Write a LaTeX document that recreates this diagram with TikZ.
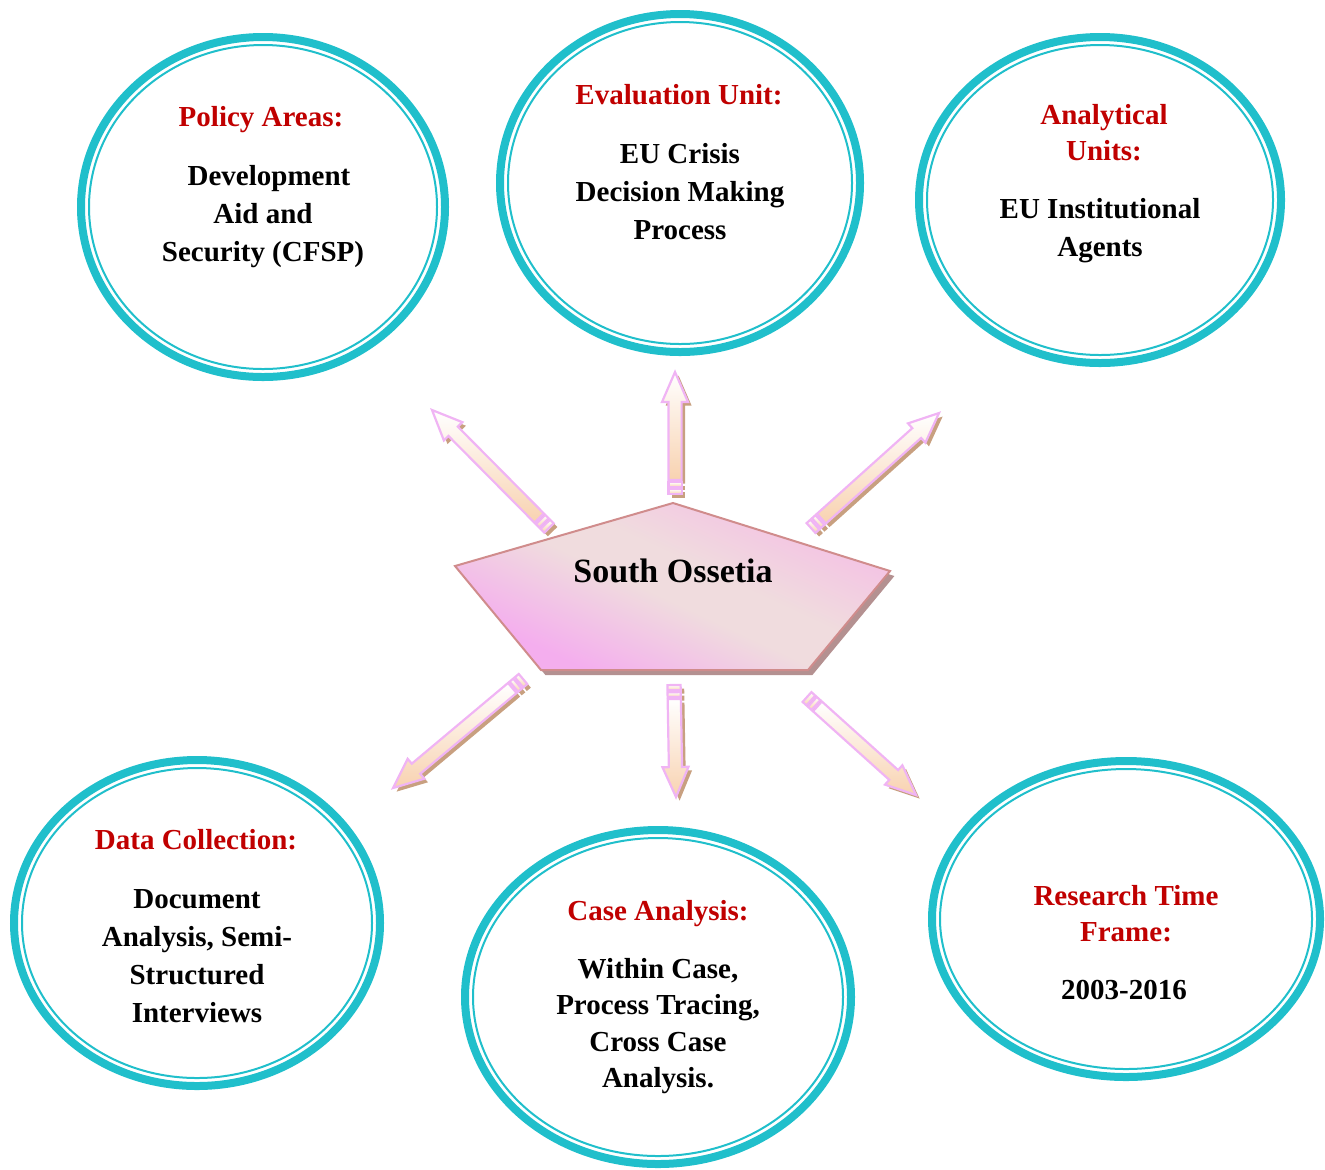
\documentclass[tikz,border=0pt]{standalone}
\usepackage{fontspec}
\setmainfont{Liberation Serif}
\usetikzlibrary{shapes.geometric,calc}

\definecolor{ringcyan}{RGB}{32,191,203}
\definecolor{titlered}{RGB}{192,0,0}
\definecolor{pentedge}{RGB}{208,140,140}
\definecolor{pentshadow}{RGB}{180,145,145}
\definecolor{pentlight}{RGB}{240,220,222}
\definecolor{pentpink}{RGB}{244,174,238}
\definecolor{pentrose}{RGB}{244,194,228}
\definecolor{arrowedge}{RGB}{240,180,244}
\definecolor{arrowpeach}{RGB}{248,210,176}
\definecolor{arrowshadow}{RGB}{200,160,128}

% pink-light-rose band fill for the central pentagon (middle 50bp spans the box)
\pgfdeclareverticalshading{pentshade}{100bp}{%
  color(0bp)=(pentpink); color(34bp)=(pentpink); color(48bp)=(pentlight);
  color(54bp)=(pentlight); color(66bp)=(pentrose); color(100bp)=(pentrose)}

% block arrow outline from tail #1 to tip #2
\newcommand\blockarrowpath[2]{%
  ($(#1)!7pt!(#2)!3.3pt!90:(#2)$) -- ($(#2)!15pt!(#1)!3.3pt!-90:(#1)$) --
  ($(#2)!15pt!(#1)!6.5pt!-90:(#1)$) -- (#2) --
  ($(#2)!15pt!(#1)!6.5pt!90:(#1)$) -- ($(#2)!15pt!(#1)!3.3pt!90:(#1)$) --
  ($(#1)!7pt!(#2)!3.3pt!-90:(#2)$) -- cycle}
% small tail segment of a block arrow, between distances #3 and #4
\newcommand\tailpiecepath[4]{%
  ($(#1)!#3!(#2)!3.3pt!90:(#2)$) -- ($(#1)!#4!(#2)!3.3pt!90:(#2)$) --
  ($(#1)!#4!(#2)!3.3pt!-90:(#2)$) -- ($(#1)!#3!(#2)!3.3pt!-90:(#2)$) -- cycle}
\newcommand\blockarrow[2]{%
  \begin{scope}[transform canvas={xshift=1.8pt,yshift=-1.8pt}]
    \fill[arrowshadow] \blockarrowpath{#1}{#2};
    \fill[arrowshadow] \tailpiecepath{#1}{#2}{0pt}{2.6pt};
    \fill[arrowshadow] \tailpiecepath{#1}{#2}{3.6pt}{6pt};
  \end{scope}
  \shade[arrowfill] \blockarrowpath{#1}{#2};
  \draw[arrowline] \blockarrowpath{#1}{#2};
  \shade[arrowfill,arrowline] \tailpiecepath{#1}{#2}{0pt}{2.6pt};
  \shade[arrowfill,arrowline] \tailpiecepath{#1}{#2}{3.6pt}{6pt};
}
% double cyan ring: name, centre, outer radii in px
\newcommand\ring[4]{%
  \node[outerring,minimum width={(#3-4)*1pt},minimum height={(#4-4)*1pt}] (#1) at #2 {};
  \node[innerring,minimum width={(#3-12)*1pt},minimum height={(#4-12)*1pt}] (#1-in) at #2 {};
}

\tikzset{
  outerring/.style={ellipse,draw=ringcyan,line width=4pt,inner sep=0pt},
  innerring/.style={ellipse,draw=ringcyan,line width=1pt,inner sep=0pt},
  title/.style={text=titlered,font=\fontsize{14.5}{18}\selectfont\bfseries,align=center,inner sep=0pt},
  body/.style={text=black,font=\fontsize{14.5}{19}\selectfont\bfseries,align=center,inner sep=0pt},
  arrowfill/.style={top color=white,bottom color=arrowpeach},
  arrowline/.style={draw=arrowedge,line width=1.1pt,line join=miter},
}

\begin{document}
\begin{tikzpicture}[x=0.5pt,y=-0.5pt]
\useasboundingbox (0,0) rectangle (1325,1169);

% rings
\ring{policy}{(263,207)}{186}{174}
\ring{evaluation}{(680,183)}{184}{173}
\ring{analytical}{(1100,200)}{185}{167}
\ring{data}{(197,923)}{187}{167}
\ring{case}{(658,997)}{197}{171}
\ring{research}{(1126,919)}{198}{162}

% ring texts
\node[title] (policy-t) at (261,120) {Policy Areas:};
\node[body] (policy-b) at (263,217) {\hspace*{6pt}Development\\Aid and\\Security (CFSP)};

\node[title] (evaluation-t) at (679,95) {Evaluation Unit:};
\node[body] (evaluation-b) at (680,192) {EU Crisis\\Decision Making\\Process};

\node[title] (analytical-t) at (1104,133) {Analytical\\Units:};
\node[body] (analytical-b) at (1100,231) {EU Institutional\\Agents};

\node[title] (data-t) at (196,840) {Data Collection:};
\node[body] (data-b) at (197,956) {Document\\Analysis, Semi-\\Structured\\Interviews};

\node[title] (case-t) at (658,914) {Case Analysis:};
\node[body,font=\fontsize{14.5}{18.2}\selectfont\bfseries] (case-b) at (658,1026) {Within Case,\\Process Tracing,\\Cross Case\\Analysis.};

\node[title] (research-t) at (1126,914) {Research Time\\Frame:};
\node[body] (research-b) at (1124,990) {2003-2016};

% central pentagon
\coordinate (p1) at (673,503);
\coordinate (p2) at (890,571);
\coordinate (p3) at (808,670);
\coordinate (p4) at (541,670);
\coordinate (p5) at (455,566);
\coordinate (pc) at (673,586);
\begin{scope}[transform canvas={xshift=2.2pt,yshift=-2.5pt}]
  \fill[pentshadow] (p1) -- (p2) -- (p3) -- (p4) -- (p5) -- cycle;
\end{scope}
\begin{scope}
  \clip (p1) -- (p2) -- (p3) -- (p4) -- (p5) -- cycle;
  \begin{scope}[transform canvas={rotate around={-25:(pc)}}]
    \shade[shading=pentshade] ($(pc)+(-320,-175)$) rectangle ($(pc)+(320,175)$);
  \end{scope}
\end{scope}
\draw[pentedge,line width=1pt,line join=miter] (p1) -- (p2) -- (p3) -- (p4) -- (p5) -- cycle;
\node[font=\fontsize{17}{20}\selectfont\bfseries,inner sep=0pt] (centre) at (673,571) {South Ossetia};

% radiating arrows
\coordinate (a1t) at (549,528); \coordinate (a1h) at (432,410);
\coordinate (a2t) at (675,494); \coordinate (a2h) at (675,372);
\coordinate (a3t) at (811,528); \coordinate (a3h) at (939,413);
\coordinate (a4t) at (523,679); \coordinate (a4h) at (393,788);
\coordinate (a5t) at (674,685); \coordinate (a5h) at (676,797);
\coordinate (a6t) at (807,697); \coordinate (a6h) at (916,795);
\blockarrow{a1t}{a1h}
\blockarrow{a2t}{a2h}
\blockarrow{a3t}{a3h}
\blockarrow{a4t}{a4h}
\blockarrow{a5t}{a5h}
\blockarrow{a6t}{a6h}
\end{tikzpicture}
\end{document}
